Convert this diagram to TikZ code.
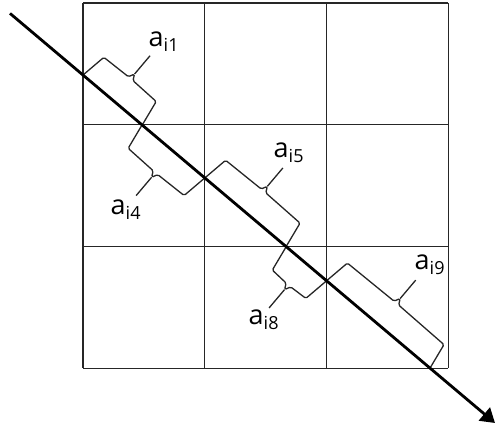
\documentclass[tikz,border=0pt]{standalone}
\usepackage{fontspec}
\setmainfont{Open Sans}
\usetikzlibrary{arrows.meta}
\newcommand\lsub[1]{\raisebox{-5pt}{\fontsize{18}{18}\selectfont #1}}
\begin{document}
\begin{tikzpicture}[x=1pt,y=-1pt,
  gridline/.style={line width=1.1pt,black!85},
  ray/.style={line width=2.8pt,-{Triangle[length=14pt,width=17pt]}},
  lbl/.style={inner sep=0pt,anchor=base west,font=\fontsize{27}{27}\selectfont},
  bracestroke/.style={line width=1.3pt,black!85,rounded corners=1.5pt,line join=round},
  pics/brc/.style n args={2}{code={
    \draw[bracestroke,yscale=#2]
      (0,0) -- (4.5,27) -- (#1/2-3,28) -- (#1/2,34) -- (#1/2+3,28) -- (#1-4.5,27) -- (#1,0);
    \draw[bracestroke,yscale=#2] (#1/2,34) -- (#1/2,58);
  }}
]
\useasboundingbox (0,0) rectangle (496,430);
% grid
\foreach \k in {0,1,2,3}{
  \draw[gridline] (83+121.77*\k,3) -- (83+121.77*\k,368.3);
  \draw[gridline] (83,3+121.77*\k) -- (448.3,3+121.77*\k);
}
% points on ray
\coordinate (S) at (10,13.4);
\coordinate (E) at (495,423);
\coordinate (P1) at (83,75.05);
\coordinate (P2) at (142.15,124.77);
\coordinate (P3) at (204.77,178.0);
\coordinate (P4) at (286.3,246.54);
\coordinate (P5) at (326.54,280.8);
\coordinate (P6) at (430.3,368.3);
% braces
\pic[rotate=-40.18] at (P1) {brc={77.5}{-1}};
\pic[rotate=-40.18] at (P2) {brc={82.2}{1}};
\pic[rotate=-40.18] at (P3) {brc={106.4}{-1}};
\pic[rotate=-40.18] at (P4) {brc={52.9}{1}};
\pic[rotate=-40.18] at (P5) {brc={135.4}{-1}};
% ray
\draw[ray] (S) -- (E);
% labels
\node[lbl] (l1) at (148.5,47) {a\lsub{i1}};
\node[lbl] (l4) at (110.5,215) {a\lsub{i4}};
\node[lbl] (l5) at (273.5,158) {a\lsub{i5}};
\node[lbl] (l8) at (248.5,325) {a\lsub{i8}};
\node[lbl] (l9) at (414.5,270) {a\lsub{i9}};
\end{tikzpicture}
\end{document}
